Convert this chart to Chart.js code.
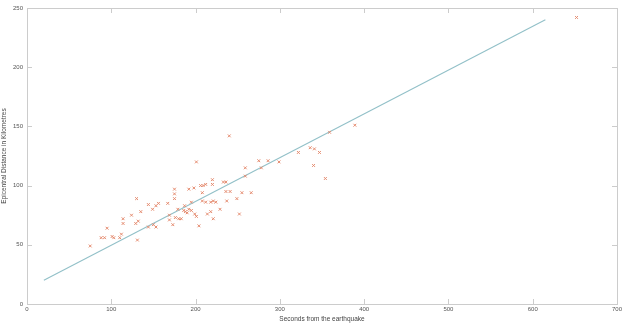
<!DOCTYPE html>
<html>
<head>
<meta charset="utf-8">
<script src="https://cdn.jsdelivr.net/npm/chart.js@4"></script>
<style>
  html, body { margin: 0; padding: 0; background: #fff; }
  #wrap { width: 624px; height: 323px; }
</style>
</head>
<body>
<div id="wrap"><canvas id="myChart" width="624" height="323"></canvas></div>
<script>
// observed arrivals: seconds from the earthquake vs epicentral distance (km)
const seconds = [240, 201, 275, 286, 299, 259, 259, 278, 220, 220, 233, 236,
  175, 192, 198, 206, 209, 212, 175, 208, 236, 241, 255, 266,
  130, 175, 249, 237, 208, 212, 218, 221, 224, 156, 167, 144,
  153, 187, 195, 135, 149, 179, 186, 188, 192, 190, 195, 199,
  201, 214, 218, 229, 124, 176, 180, 183, 114, 114, 132, 129,
  169, 169, 221, 252, 144, 153, 150, 173, 204, 95, 88, 92,
  101, 103, 110, 112, 131, 75, 322, 336, 341, 347, 340, 354,
  359, 389, 652];
const distance = [142, 120, 121, 121, 120, 115, 108, 115, 105, 101, 103, 103,
  97, 97, 98, 100, 100, 101, 93, 94, 95, 95, 94, 94,
  89, 89, 89, 87, 87, 86, 86, 87, 86, 85, 85, 84,
  83, 83, 86, 78, 80, 80, 79, 78, 80, 77, 79, 76,
  74, 76, 78, 80, 75, 73, 72, 72, 72, 68, 70, 68,
  75, 71, 72, 76, 65, 65, 67, 67, 66, 64, 56, 56,
  57, 56, 56, 59, 54, 49, 128, 132, 131, 128, 117, 106,
  145, 151, 242];
// fitted line end points
const fitX = [20, 615];
const fitY = [20, 240];

const xMin = 0, xMax = 700, xStep = 100;
const yMin = 0, yMax = 250, yStep = 50;

const frameColor = '#cccccc';
const textColor = '#555';

const boxPlugin = {
  id: 'box',
  afterDraw(chart) {
    const { ctx, chartArea: a, scales } = chart;
    ctx.save();
    ctx.strokeStyle = frameColor;
    ctx.lineWidth = 1;
    ctx.strokeRect(Math.round(a.left) + 0.5, Math.round(a.top) + 0.5,
      Math.round(a.right - a.left), Math.round(a.bottom - a.top));
    const len = 5;
    ctx.beginPath();
    scales.x.ticks.forEach(t => {
      const px = Math.round(scales.x.getPixelForValue(t.value)) + 0.5;
      ctx.moveTo(px, a.bottom); ctx.lineTo(px, a.bottom - len);
      ctx.moveTo(px, a.top); ctx.lineTo(px, a.top + len);
    });
    scales.y.ticks.forEach(t => {
      const py = Math.round(scales.y.getPixelForValue(t.value)) + 0.5;
      ctx.moveTo(a.left, py); ctx.lineTo(a.left + len, py);
      ctx.moveTo(a.right, py); ctx.lineTo(a.right - len, py);
    });
    ctx.stroke();
    ctx.restore();
  }
};

const ctx = document.querySelector('#myChart');

new Chart(ctx, {
  type: 'scatter',
  data: {
    datasets: [
      {
        label: 'observed',
        data: seconds.map((s, i) => ({ x: s, y: distance[i] })),
        pointStyle: 'crossRot',
        radius: 2,
        borderWidth: 1,
        borderColor: '#e48a6e',
        backgroundColor: '#e48a6e'
      },
      {
        type: 'line',
        label: 'fit',
        data: fitX.map((s, i) => ({ x: s, y: fitY[i] })),
        borderColor: '#92c0c8',
        borderWidth: 1.1,
        pointRadius: 0,
        fill: false
      }
    ]
  },
  options: {
    responsive: false,
    animation: false,
    layout: { padding: { top: 8, right: 7, left: 0, bottom: 0 } },
    plugins: {
      legend: { display: false },
      tooltip: { enabled: false }
    },
    scales: {
      x: {
        type: 'linear',
        min: xMin, max: xMax,
        afterFit: s => { s.height = 19; },
        grid: { display: false, drawTicks: false },
        border: { display: false },
        ticks: {
          stepSize: xStep, padding: 2, maxRotation: 0,
          color: textColor, font: { family: 'Liberation Sans', size: 6 }
        },
        title: {
          display: true, text: 'Seconds from the earthquake', padding: 0,
          color: '#444', font: { family: 'Liberation Sans', size: 6.5 }
        }
      },
      y: {
        min: yMin, max: yMax,
        afterFit: s => { s.width = 27; },
        grid: { display: false, drawTicks: false },
        border: { display: false },
        ticks: {
          stepSize: yStep, padding: 4,
          color: textColor, font: { family: 'Liberation Sans', size: 6 }
        },
        title: {
          display: true, text: 'Epicentral Distance in Kilometres', padding: { top: 0, bottom: 2 },
          color: '#444', font: { family: 'Liberation Sans', size: 6.5 }
        }
      }
    }
  },
  plugins: [boxPlugin]
});
</script>
</body>
</html>
